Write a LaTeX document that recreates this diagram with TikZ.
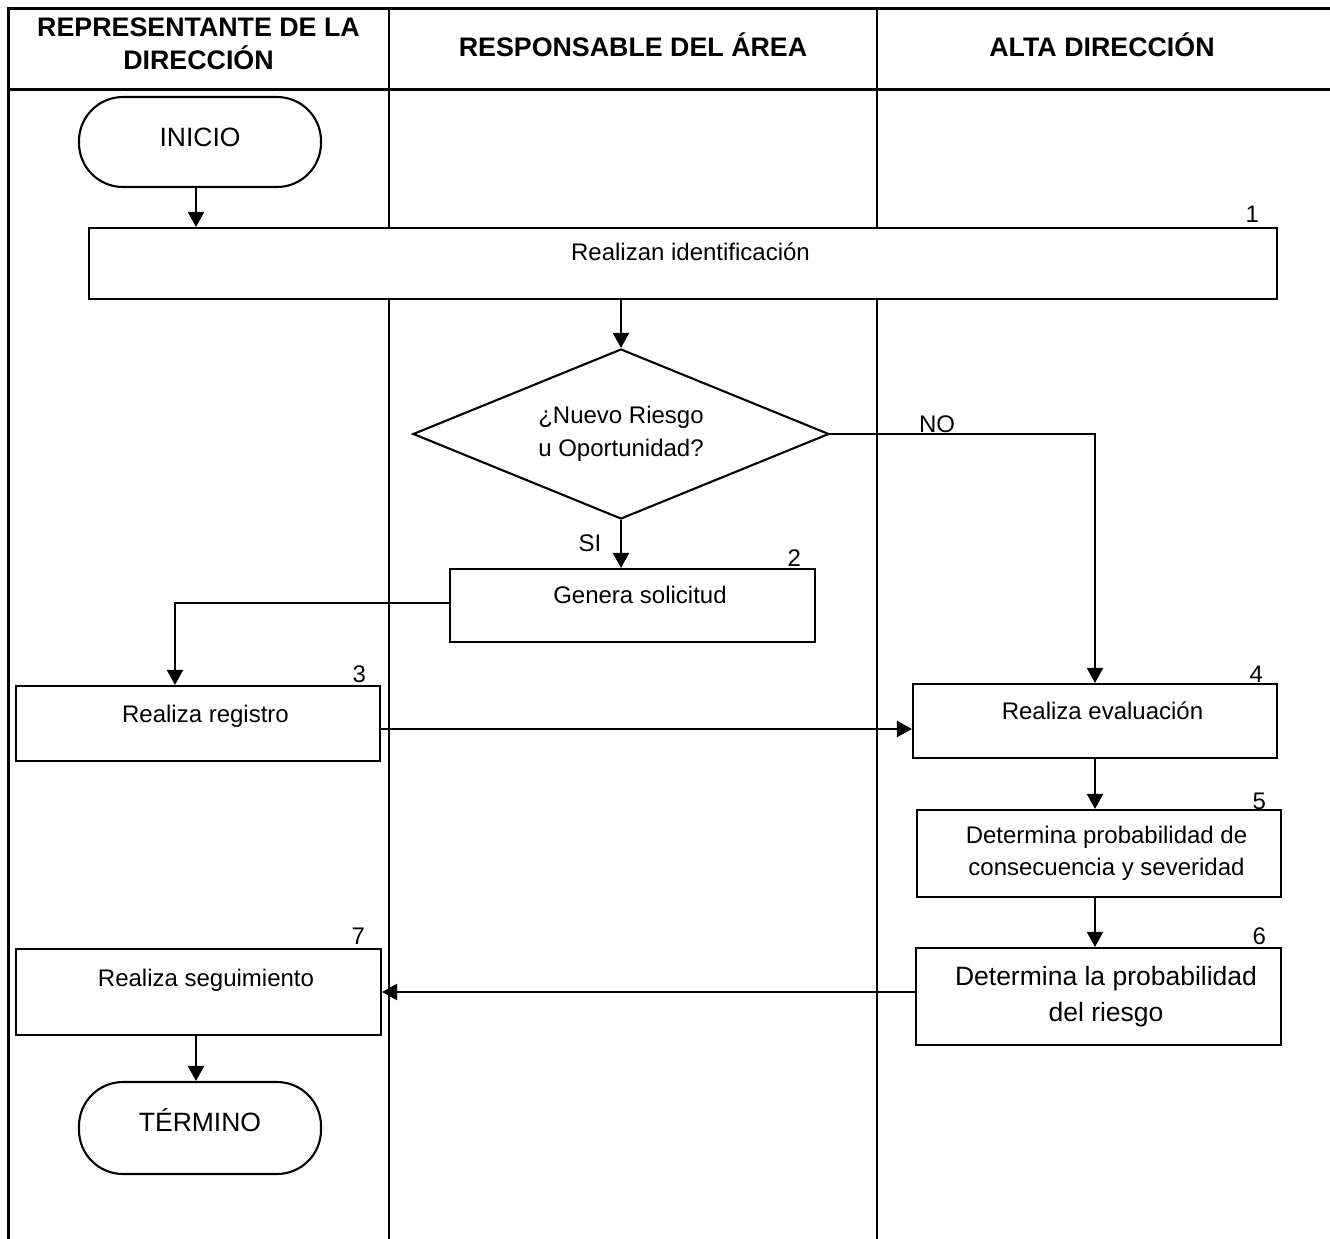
\documentclass[tikz,border=0pt]{standalone}
\usepackage{fontspec}
\setmainfont{Liberation Sans}
\usetikzlibrary{shapes.geometric,arrows.meta,calc}
\newcommand{\pad}{\hspace*{15pt}}
\begin{document}
\begin{tikzpicture}[x=1pt,y=-1pt,
  frame/.style={line width=3pt},
  lane/.style={line width=2.3pt},
  hdr/.style={font=\fontsize{26.8}{33}\selectfont\bfseries, align=center, inner sep=0pt},
  stepbox/.style={draw, line width=2.1pt, fill=white, rectangle, inner sep=0pt, font=\fontsize{24}{32}\selectfont},
  terminal/.style={draw, line width=2.1pt, fill=white, rectangle, rounded corners=44pt, inner sep=0pt, minimum width=242pt, font=\fontsize{26.5}{30}\selectfont},
  decision/.style={draw, line width=2.1pt, fill=white, diamond, aspect=2.45, inner sep=0pt, minimum width=416pt, minimum height=170pt, align=center, font=\fontsize{24}{33}\selectfont},
  lbl/.style={font=\fontsize{24}{28}\selectfont, inner sep=0pt},
  num/.style={font=\fontsize{24}{28}\selectfont, anchor=base east, inner sep=0pt},
  flow/.style={line width=2.1pt, -{Triangle[length=15pt,width=16pt]}}
]
\useasboundingbox (0,0) rectangle (1330,1239);
% frame and lanes
\draw[frame] (6.5,9) -- (1330,9);
\draw[frame] (6.5,89) -- (1330,89);
\draw[frame] (8,9) -- (8,1239);
\draw[lane] (389,9) -- (389,1239);
\draw[lane] (877,9) -- (877,1239);
% headers
\node[hdr] (h1) at (198.5,44) {REPRESENTANTE DE LA\\DIRECCIÓN};
\node[hdr] (h2) at (633,45) {RESPONSABLE DEL ÁREA};
\node[hdr] (h3) at (1102,45) {ALTA DIRECCIÓN};
% nodes
\node[terminal, text height=49.5pt, text depth=40.5pt] (inicio) at (200,142) {INICIO};
\node[stepbox, minimum width=1188pt, text height=32pt, text depth=39pt] (b1) at (683,263.5) {\pad Realizan identificación};
\node[decision] (dec) at (621,434) {¿Nuevo Riesgo\\u Oportunidad?};
\node[stepbox, minimum width=365pt, text height=34pt, text depth=39pt] (b2) at (632.5,605.5) {\pad Genera solicitud};
\node[stepbox, minimum width=364pt, text height=36pt, text depth=39pt] (b3) at (198,723.5) {\pad Realiza registro};
\node[stepbox, minimum width=364pt, text height=35pt, text depth=39pt] (b4) at (1095,721) {\pad Realiza evaluación};
\node[stepbox, minimum width=364pt, minimum height=87pt, align=center] (b5) at (1099,853.5) {\pad Determina probabilidad de\\\pad consecuencia y severidad};
\node[stepbox, minimum width=365pt, minimum height=97pt, align=center, font=\fontsize{26.5}{36}\selectfont] (b6) at (1098.5,996.5) {\pad Determina la probabilidad\\\pad del riesgo};
\node[stepbox, minimum width=365pt, text height=37pt, text depth=49pt] (b7) at (198.5,992) {\pad Realiza seguimiento};
\node[terminal, text height=49.5pt, text depth=42.5pt] (term) at (200,1128) {TÉRMINO};
% step numbers
\node[num] (n1) at ($(b1.north east)+(-19,-4)$) {1};
\node[num] (n2) at ($(b2.north east)+(-15,-1)$) {2};
\node[num] (n3) at ($(b3.north east)+(-15,-2)$) {3};
\node[num] (n4) at ($(b4.north east)+(-15,0)$) {4};
\node[num] (n5) at ($(b5.north east)+(-16,1)$) {5};
\node[num] (n6) at ($(b6.north east)+(-16,-2)$) {6};
\node[num] (n7) at ($(b7.north east)+(-17,-3)$) {7};
% connectors
\coordinate (s0) at ($(inicio.south)+(-4,0)$);
\draw[flow] (s0) -- (s0 |- b1.north);
\draw[flow] (dec.north |- b1.south) -- (dec.north);
\draw[flow] (dec.south) -- (dec.south |- b2.north);
\node[lbl] (si) at (590,543) {SI};
\draw[flow] (dec.east) -| (b4.north);
\node[lbl, anchor=base] (no) at (937,432) {NO};
\coordinate (d3) at ($(b3.north)+(-23,0)$);
\coordinate (w2) at ($(b2.west)+(0,-2.5)$);
\draw[flow] (w2) -| (d3);
\coordinate (r3) at ($(b3.east)+(0,5.5)$);
\draw[flow] (r3) -- (r3 -| b4.west);
\draw[flow] (b4.south) -- (b4.south |- b5.north);
\draw[flow] (b4.south |- b5.south) -- (b4.south |- b6.north);
\draw[flow] (b6.west |- b7.east) -- (b7.east);
\coordinate (s7) at ($(b7.south)+(-2.5,0)$);
\draw[flow] (s7) -- (s7 |- term.north);
\end{tikzpicture}
\end{document}
